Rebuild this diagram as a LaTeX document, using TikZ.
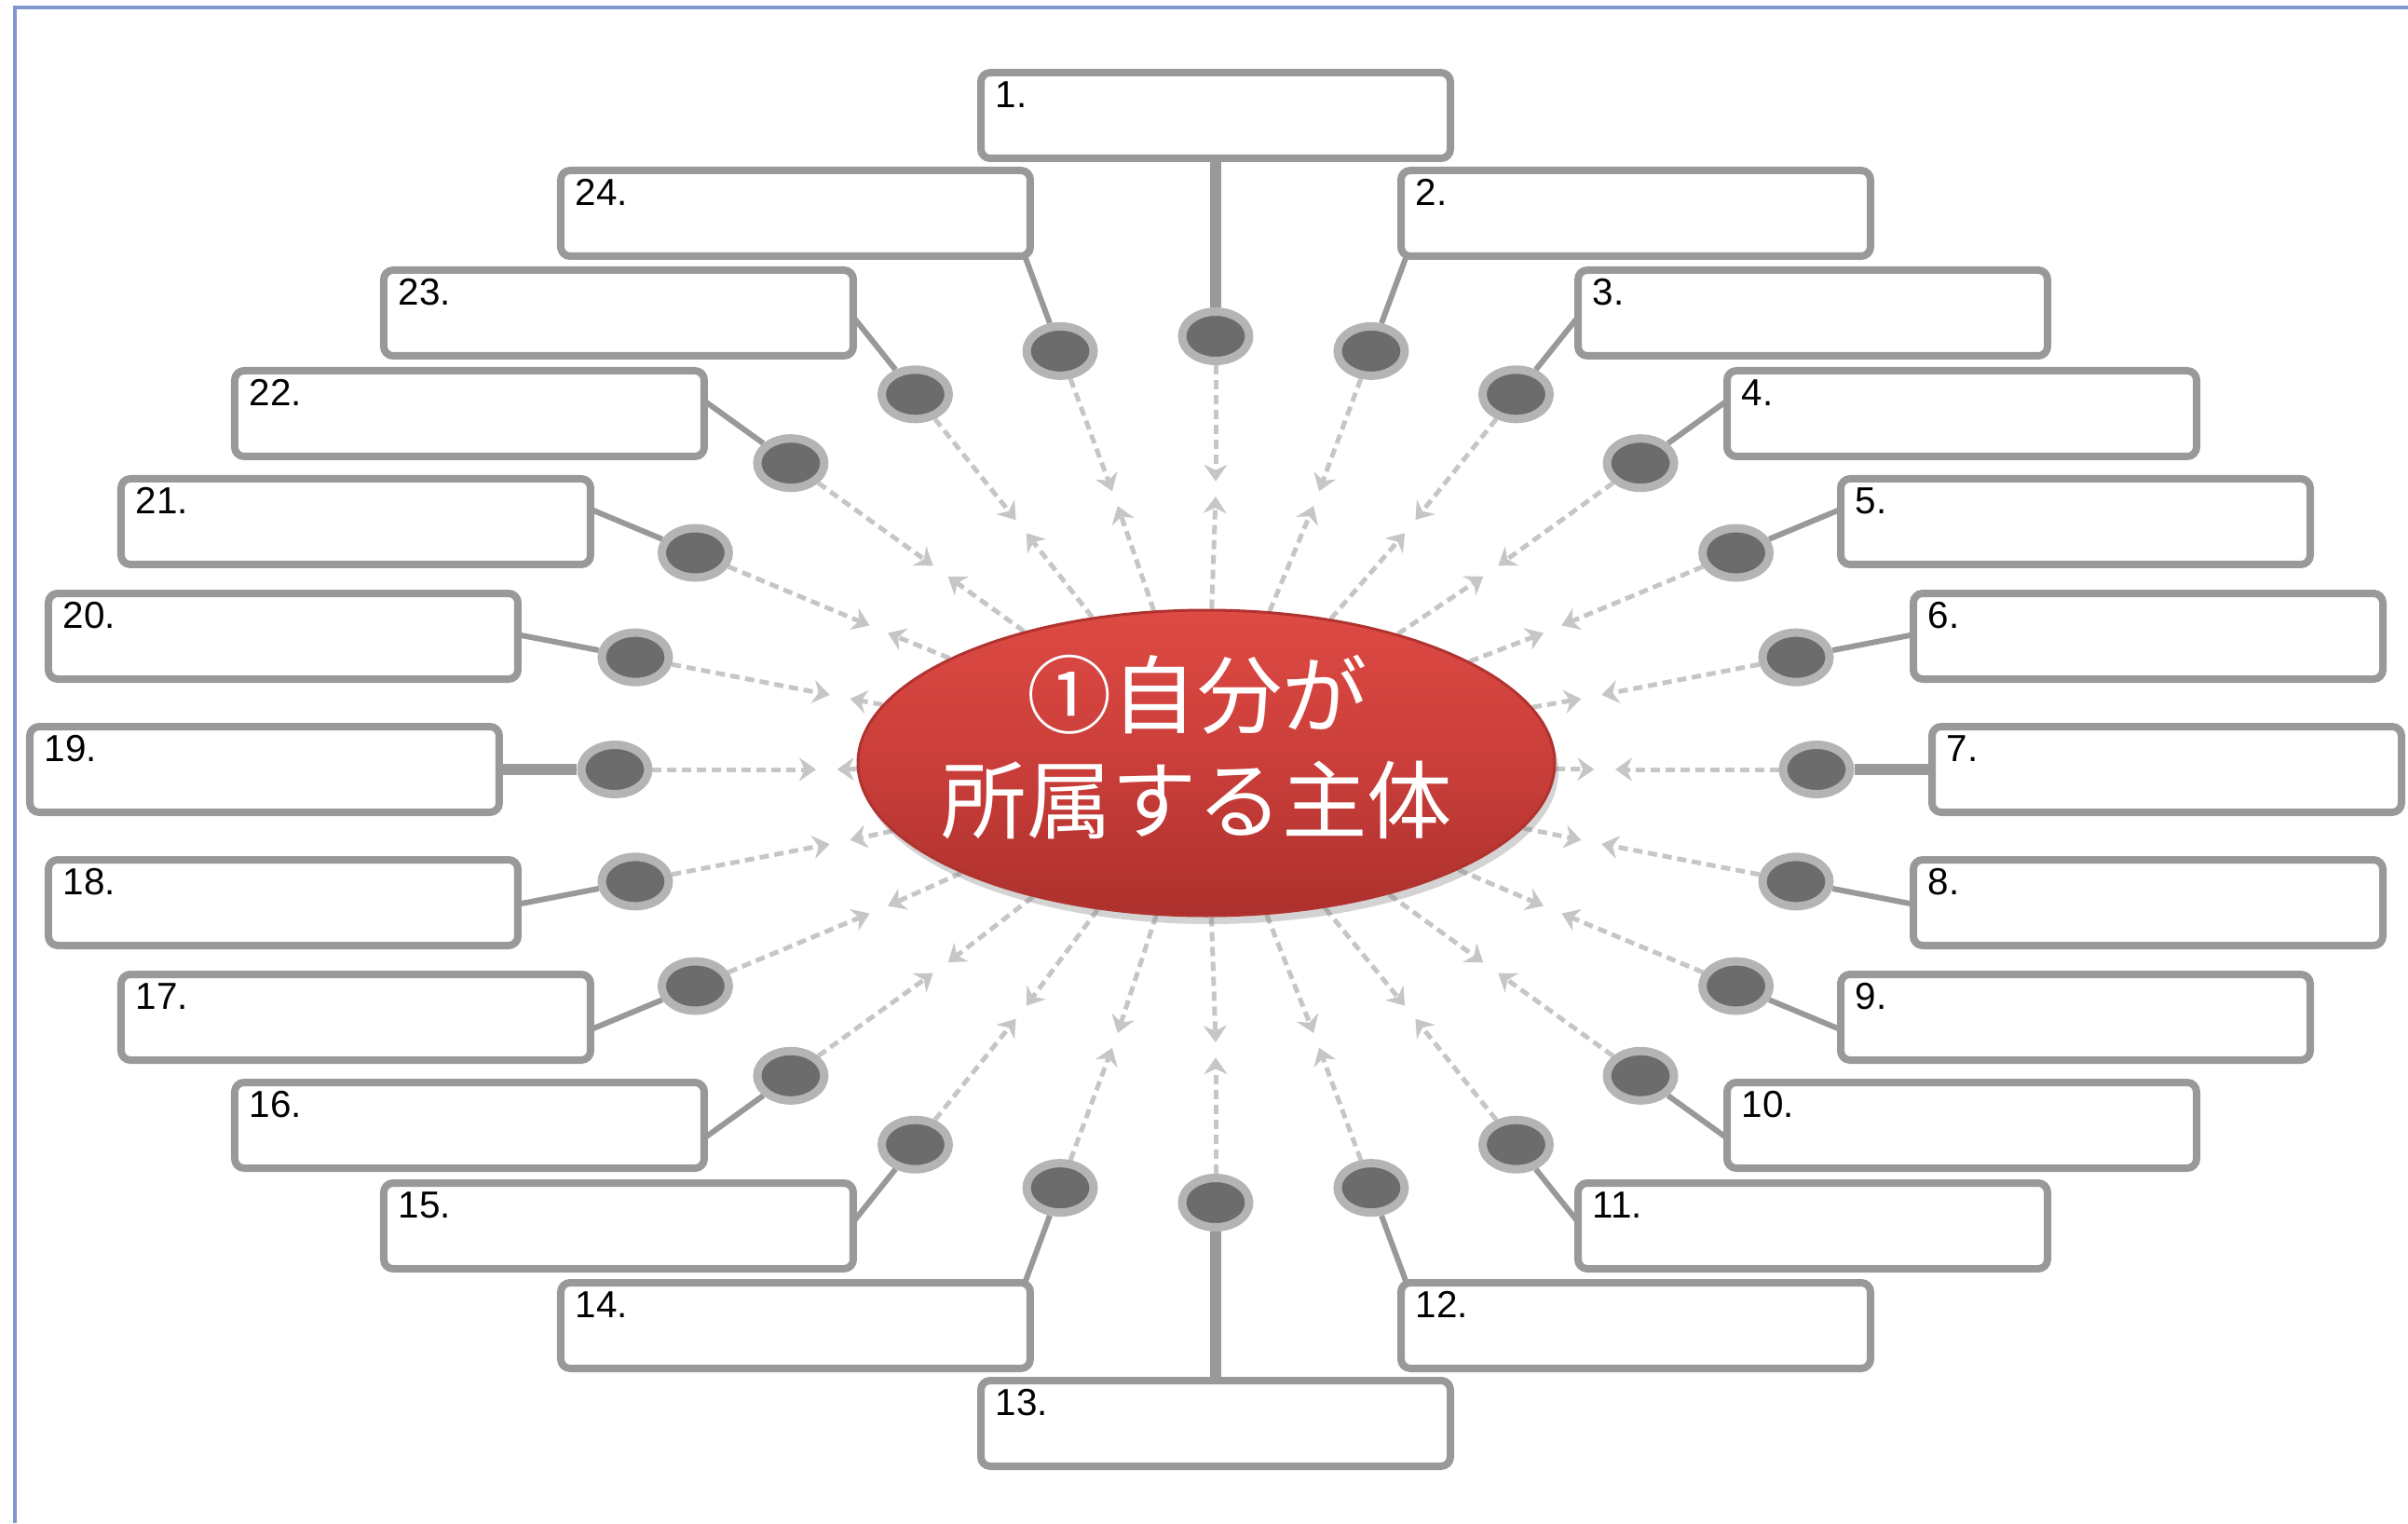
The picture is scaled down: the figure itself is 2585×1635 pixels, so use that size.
\documentclass[tikz,border=0pt]{standalone}
\usepackage{fontspec}
\setmainfont{Liberation Sans}
\newfontfamily\cjk{Noto Sans CJK JP}
\usetikzlibrary{shapes.geometric,arrows.meta,calc,backgrounds,shadows}
\definecolor{boxgray}{RGB}{153,153,153}
\definecolor{ringgray}{RGB}{180,180,180}
\definecolor{dotgray}{RGB}{108,108,108}
\definecolor{spokegray}{RGB}{198,198,198}
\definecolor{frameblue}{RGB}{128,150,205}
\definecolor{redtop}{RGB}{222,74,68}
\definecolor{redmid}{RGB}{202,62,58}
\definecolor{redbot}{RGB}{172,48,45}
\begin{document}
\begin{tikzpicture}[x=0.1mm,y=0.1mm,
	box/.style={draw=boxgray,line width=0.8mm,rounded corners=1mm,fill=white,
		minimum width=50.4mm,minimum height=9.2mm,inner sep=0pt},
	num/.style={anchor=north west,inner sep=0pt,xshift=1.9mm,yshift=-1.3mm,
		font=\fontsize{11.5}{13}\selectfont},
	dot/.style={ellipse,draw=ringgray,line width=0.9mm,fill=dotgray,
		minimum width=7.2mm,minimum height=5.3mm,inner sep=0pt},
	link/.style={draw=boxgray},
	spoke/.style={spokegray,line width=0.5mm,dash pattern=on 1mm off 0.6mm,
		-{Stealth[length=1.8mm,width=2.5mm]}},
	hub/.style={ellipse,minimum width=74.8mm,minimum height=32.8mm,
		top color=redtop,bottom color=redbot,middle color=redmid,
		draw=redbot!90!redtop,line width=0.3mm,
		drop shadow={opacity=0.35,shadow xshift=0.4mm,shadow yshift=-0.9mm}}]
	\useasboundingbox (-1305,-809) rectangle (1280,826);
	\coordinate (O) at (0,0);
	% frame
	\draw[frameblue,line width=0.4mm] (-1289,-809) -- (-1289,818) -- (1280,818);
	% centre
	\node[hub] (ell) at (-10,7) {};
	\node[text=white,align=center,font=\cjk\fontsize{26}{32}\selectfont] (title) at (-20,24)
		{①自分が\\所属する主体};
	% boxes
	\foreach \i/\bx/\by in {1/0/702,2/451/597,3/641/490,4/801/382,5/923/266,6/1001/143,
		7/1021/0,8/1001/-143,9/923/-266,10/801/-382,11/641/-490,12/451/-597,13/0/-702,
		14/-451/-597,15/-641/-490,16/-801/-382,17/-923/-266,18/-1001/-143,19/-1021/0,
		20/-1001/143,21/-923/266,22/-801/382,23/-641/490,24/-451/597}
	{
		\node[box,label={[num]north west:\i.}] (b\i) at (\bx,\by) {};
	}
	% dots
	\foreach \i in {1,...,24}
	{
		\node[dot] (d\i) at ({645*sin((\i-1)*15)},{465*cos((\i-1)*15)}) {};
	}
	\begin{scope}[on background layer]
	\foreach \i in {1,...,24}
	{
		\pgfmathsetmacro\f{mod(\i-1,6)==0 ? 1.5 : 1.25}
		\pgfmathsetmacro\w{mod(\i-1,6)==0 ? 1.2 : 0.6}
		\draw[link,line width=\w mm] (d\i) -- ($(O)!\f!(d\i)$);
		\draw[spoke] (d\i) -- ($(O)!0.665!(d\i)$);
		\draw[spoke] (ell) -- ($(O)!0.63!(d\i)$);
	}
	\end{scope}
\end{tikzpicture}
\end{document}
